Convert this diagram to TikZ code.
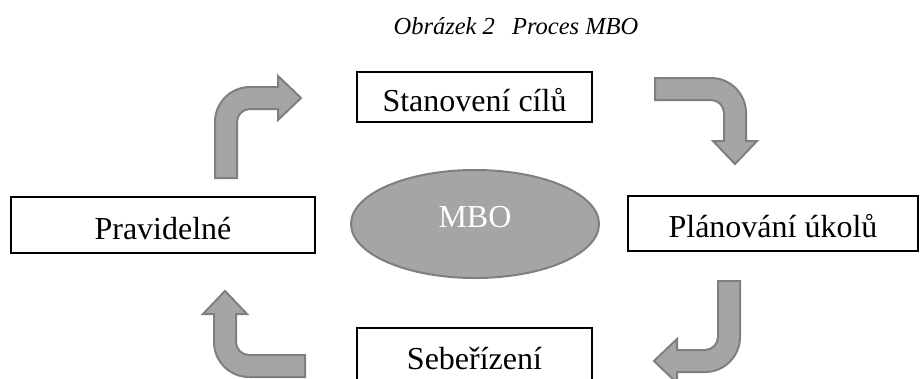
\documentclass[tikz,border=0pt]{standalone}
\usepackage{fontspec}
\setmainfont{Liberation Serif}
\usetikzlibrary{shapes.geometric}
\definecolor{shapegray}{HTML}{A5A5A5}
\definecolor{edgegray}{HTML}{7F7F7F}

\tikzset{
    bentarrow/.pic={
        \draw [fill=shapegray, draw=edgegray, line width=2pt]
            (-35, 56) -- (-35, 0) .. controls (-35, -19.33) and (-19.33, -35) .. (0, -35)
            -- (28, -35) -- (28, -46) -- (51, -24) -- (28, -2) -- (28, -13) -- (0, -13)
            .. controls (-7.18, -13) and (-13, -7.18) .. (-13, 0) -- (-13, 56) -- cycle;
    }
}

\begin{document}
\begin{tikzpicture}[x=1pt, y=-1pt,
    stagebox/.style={draw, rectangle, line width=2.5pt, inner sep=0pt,
        font=\fontsize{32}{38}\selectfont, text height=28pt, text depth=0pt},
    hub/.style={ellipse, draw=edgegray, fill=shapegray, line width=2pt,
        minimum width=248pt, minimum height=108pt, inner sep=0pt}]
    \clip (0, 0) rectangle (924, 378);

    \node [font=\fontsize{24.5}{29}\selectfont\itshape, text height=17pt, text depth=0pt]
        (caption) at (516, 26) {Obrázek 2\hspace{0.7em}Proces MBO};

    \node [stagebox, minimum width=235pt, minimum height=50pt] (goals) at (474.5, 97) {Stanovení cílů};
    \node [stagebox, minimum width=290pt, minimum height=55pt] (tasks) at (773, 223.5) {Plánování úkolů};
    \node [stagebox, minimum width=235pt, minimum height=54pt] (self) at (474.5, 355) {Sebeřízení};
    \node [stagebox, minimum width=304pt, minimum height=56pt] (review) at (163, 225) {Pravidelné};

    \node [hub] (mbo) at (475, 224) {};
    \node [font=\fontsize{32}{38}\selectfont, text=white] (mbolabel) at ([yshift=7pt]mbo.center) {MBO};

    \pic at (250, 122) {bentarrow};
    \pic [rotate=-90] at (711, 113) {bentarrow};
    \pic [rotate=180] at (705, 337) {bentarrow};
    \pic [rotate=90] at (249, 342) {bentarrow};
\end{tikzpicture}
\end{document}
